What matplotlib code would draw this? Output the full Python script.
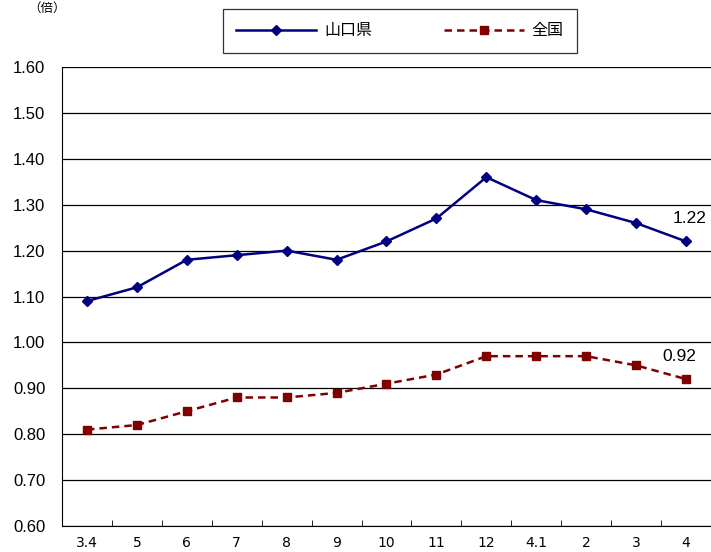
import matplotlib
matplotlib.use("Agg")
import matplotlib.pyplot as plt
import numpy as np

plt.rcParams['font.family'] = ['Noto Sans CJK JP', 'DejaVu Sans']

# -------------------- データ --------------------
labels = ["3.4", "5", "6", "7", "8", "9", "10", "11", "12", "4.1", "2", "3", "4"]
yamaguchi = [1.09, 1.12, 1.18, 1.19, 1.20, 1.18, 1.22, 1.27, 1.36, 1.31, 1.29, 1.26, 1.22]
zenkoku = [0.81, 0.82, 0.85, 0.88, 0.88, 0.89, 0.91, 0.93, 0.97, 0.97, 0.97, 0.95, 0.92]
yticks = [0.60, 0.70, 0.80, 0.90, 1.00, 1.10, 1.20, 1.30, 1.40, 1.50, 1.60]

x = np.arange(len(labels))

fig = plt.figure(figsize=(7.11, 5.52), dpi=100)
ax = fig.add_axes([0.0872, 0.0471, 0.9128, 0.8315])

ax.plot(x, yamaguchi, color="#000080", lw=1.8, marker="D", ms=5, label="山口県")
ax.plot(x, zenkoku, color="#800000", lw=1.8, ls=(0, (3, 2)), marker="s", ms=6, label="全国")

ax.set_xlim(-0.5, len(labels) - 0.5)
ax.set_ylim(0.60, 1.60)
ax.set_yticks(yticks)
ax.set_yticklabels([f"{v:.2f}" for v in yticks], fontsize=12, family="Liberation Sans")
ax.set_xticks(x)
ax.set_xticklabels(labels, fontsize=10, family="Liberation Sans Narrow")
ax.set_xticks(x[:-1] + 0.5, minor=True)
ax.tick_params(axis="x", which="major", length=0, pad=7)
ax.tick_params(axis="x", which="minor", length=4, direction="in")
ax.tick_params(axis="y", length=0, pad=12)
ax.grid(axis="y", color="black", lw=0.9)
ax.set_axisbelow(True)
for s in ["top", "right"]:
    ax.spines[s].set_visible(False)

ax.annotate(f"{yamaguchi[-1]:.2f}", (x[-1], yamaguchi[-1]), xytext=(-10, 13),
            textcoords="offset points", fontsize=12.5, family="Liberation Sans")
ax.annotate(f"{zenkoku[-1]:.2f}", (x[-1], zenkoku[-1]), xytext=(-17, 13),
            textcoords="offset points", fontsize=12.5, family="Liberation Sans")

leg = fig.legend(loc="center", bbox_to_anchor=(0.5626, 0.944), ncol=2,
                 fontsize=11.5, frameon=True, fancybox=False, edgecolor="black",
                 handlelength=5, columnspacing=4.5, borderpad=0.85,
                 handletextpad=0.5, borderaxespad=0)
leg.get_frame().set_linewidth(0.9)

fig.text(0.04, 0.985, "（倍）", fontsize=9, va="center")

fig.savefig("out.png", dpi=100)
